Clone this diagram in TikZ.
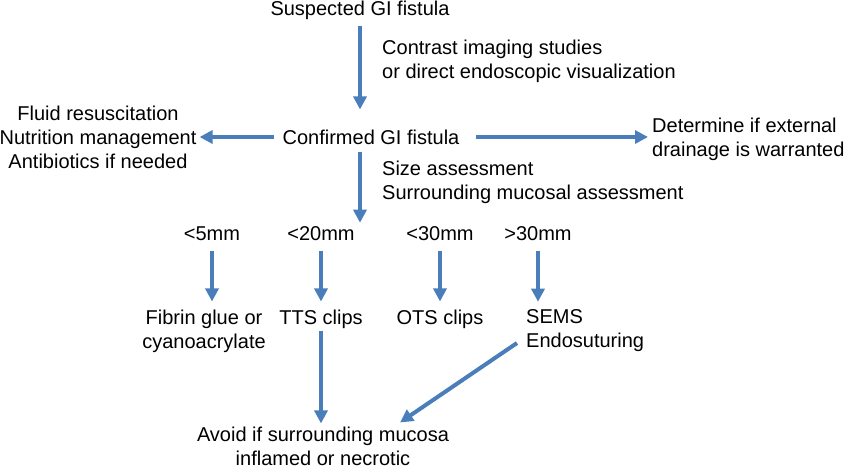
\documentclass[tikz,border=0pt]{standalone}
\usepackage{fontspec}
\setmainfont{Liberation Sans}
\usepackage{tikz}
\usetikzlibrary{arrows.meta, positioning}
\definecolor{flowblue}{RGB}{74,126,187}

\begin{document}
\begin{tikzpicture}[
  x=1pt, y=-1pt,
  every node/.style={inner sep=0pt, font=\fontsize{20}{24}\selectfont},
  lbl/.style={align=center},
  note/.style={align=left, anchor=west},
  flow/.style={draw=flowblue, line width=4pt, -{Triangle[length=13pt,width=13pt]}}
]
  \useasboundingbox (0,0) rectangle (844,469);

  \node[lbl] (suspect) at (360,10) {Suspected GI fistula};
  \node[note] (imaging) at (382,61) {Contrast imaging studies\\or direct endoscopic visualization};
  \node[lbl] (confirmed) at (371,137) {Confirmed GI fistula};
  \node[lbl] (support) at (98,137) {Fluid resuscitation\\Nutrition management\\Antibiotics if needed};
  \node[note] (drainage) at (652,139) {Determine if external\\drainage is warranted};
  \node[note] (assess) at (382,182) {Size assessment\\Surrounding mucosal assessment};

  % size classes
  \node[lbl] (lt5) at (212,234) {<5mm};
  \node[lbl] (lt20) at (321,234) {<20mm};
  \node[lbl] (lt30) at (440,234) {<30mm};
  \node[lbl] (gt30) at (538,234) {>30mm};

  % closure options
  \node[lbl] (glue) at (204,331) {Fibrin glue or\\cyanoacrylate};
  \node[lbl] (tts) at (321,319) {TTS clips};
  \node[lbl] (ots) at (440,319) {OTS clips};
  \node[note] (sems) at (526,331) {SEMS\\Endosuturing};
  \node[lbl] (avoid) at (323,446) {Avoid if surrounding mucosa\\inflamed or necrotic};

  \coordinate (sems tail) at ([xshift=-9pt, yshift=-12pt]sems.west);
  \coordinate (avoid tip) at ([xshift=77pt, yshift=4pt]avoid.north);

  \draw[flow, shorten <=6pt, shorten >=20pt] (suspect.south) -- (suspect.south |- confirmed.north);
  \draw[flow, shorten <=8pt, shorten >=3pt] (confirmed.west) -- (support.east |- confirmed.west);
  \draw[flow, shorten <=16pt, shorten >=4pt] (confirmed.east) -- (confirmed.east -| drainage.west);
  \draw[flow, shorten <=7pt, shorten >=4pt] (suspect.south |- confirmed.south) -- (suspect.south |- lt20.north);

  \draw[flow, shorten <=10pt, shorten >=8pt] (lt5.south) -- (lt5.south |- glue.north);
  \draw[flow, shorten <=10pt, shorten >=8pt] (lt20.south) -- (lt20.south |- tts.north);
  \draw[flow, shorten <=10pt, shorten >=8pt] (lt30.south) -- (lt30.south |- ots.north);
  \draw[flow, shorten <=10pt, shorten >=8pt] (gt30.south) -- (gt30.south |- sems.north);

  \draw[flow, shorten <=2pt, shorten >=3pt] (tts.south) -- (tts.south |- avoid.north);
  \draw[flow] (sems tail) -- (avoid tip);
\end{tikzpicture}
\end{document}
